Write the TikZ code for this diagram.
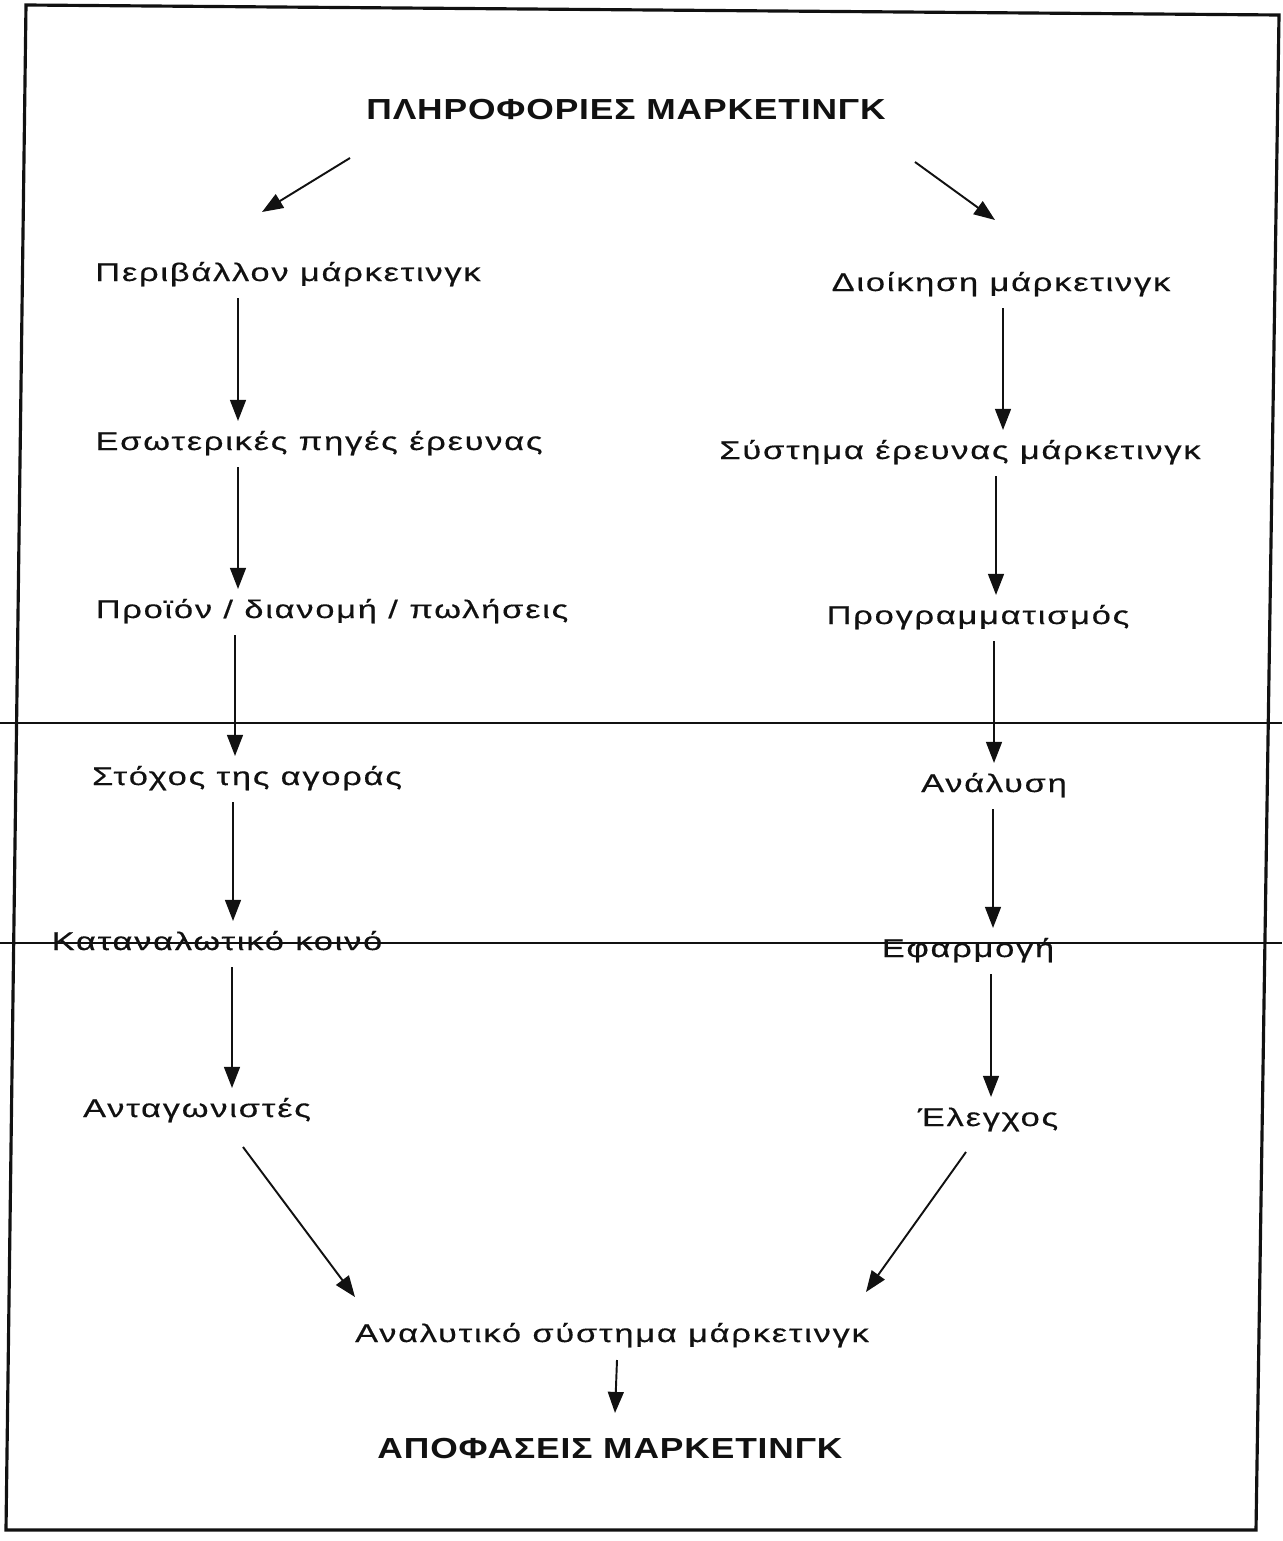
\documentclass[tikz,border=0pt]{standalone}
\usepackage{fontspec}
\usepackage{tikz}
\usetikzlibrary{arrows.meta, calc}
\setmainfont{Liberation Sans}
\newfontfamily\txtfont[FakeStretch=1.35, LetterSpace=7, FakeBold=0.4]{Liberation Sans}
\newfontfamily\hdfont[FakeStretch=1.22, LetterSpace=3]{Liberation Sans}
\definecolor{ink}{HTML}{111111}

\begin{document}
\begin{tikzpicture}[
    x=0.02cm, y=-0.02cm,
    ink,
    lbl/.style={
        font=\txtfont\fontsize{14.5}{17}\selectfont,
        anchor=base, inner sep=0pt,
    },
    hd/.style={
        font=\hdfont\bfseries\fontsize{16.5}{19}\selectfont,
        anchor=base, inner sep=0pt,
    },
    arr/.style={
        line width=1.1pt,
        -{Triangle[length=12pt, width=9pt]},
    },
]
\useasboundingbox (0,0) rectangle (1282,1541);

% =============================================
% FRAME and the two fold lines of the sheet
% =============================================
\draw[line width=1.8pt, line join=miter] (26,5) -- (1279,15) -- (1256,1530) -- (6,1530) -- cycle;
\draw[line width=0.9pt] (0,723) -- (1282,723);
\draw[line width=0.9pt] (0,943) -- (1282,943);

% =============================================
% TITLES
% =============================================
\node[hd] (head) at (626,119) {ΠΛΗΡΟΦΟΡΙΕΣ ΜΑΡΚΕΤΙΝΓΚ};
\node[hd] (apof) at (610,1458) {ΑΠΟΦΑΣΕΙΣ ΜΑΡΚΕΤΙΝΓΚ};

% =============================================
% LEFT COLUMN
% =============================================
\node[lbl] (peri)   at (288,281)  {Περιβάλλον μάρκετινγκ};
\node[lbl] (eso)    at (319,450)  {Εσωτερικές πηγές έρευνας};
\node[lbl] (proion) at (332,618)  {Προϊόν / διανομή / πωλήσεις};
\node[lbl] (stoxos) at (247,785)  {Στόχος της αγοράς};
\node[lbl] (katan)  at (217,950)  {Καταναλωτικό κοινό};
\node[lbl] (antag)  at (197,1117) {Ανταγωνιστές};

% =============================================
% RIGHT COLUMN
% =============================================
\node[lbl] (dioik)   at (1001,291) {Διοίκηση μάρκετινγκ};
\node[lbl] (systima) at (960,459)  {Σύστημα έρευνας μάρκετινγκ};
\node[lbl] (prog)    at (978,624)  {Προγραμματισμός};
\node[lbl] (analysi) at (994,792)  {Ανάλυση};
\node[lbl] (efarm)   at (968,957)  {Εφαρμογή};
\node[lbl] (elegx)   at (988,1126) {Έλεγχος};

% Bottom
\node[lbl] (analyt) at (612,1342) {Αναλυτικό σύστημα μάρκετινγκ};

% =============================================
% ARROWS
% =============================================
% split at the top
\draw[arr] ([shift={(-276,39)}]head.base) -- ([shift={(-26,-69)}]peri.base);
\draw[arr] ([shift={(289,43)}]head.base) -- ([shift={(-6,-71)}]dioik.base);

% down each column
\foreach \a/\b/\x in {peri/eso/238, eso/proion/238, proion/stoxos/235,
                      stoxos/katan/233, katan/antag/232,
                      dioik/systima/1003, systima/prog/996, prog/analysi/994,
                      analysi/efarm/993, efarm/elegx/991}
  \draw[arr] ($(\a.base -| \x,0)+(0,17)$) -- ($(\b.base -| \x,0)+(0,-29)$);

% join at the bottom
\draw[arr] ([shift={(46,30)}]antag.base) -- ([shift={(-257,-45)}]analyt.base);
\draw[arr] ([shift={(-22,26)}]elegx.base) -- ([shift={(254,-50)}]analyt.base);
\draw[arr] ([shift={(5,18)}]analyt.base) -- ([shift={(5,-45)}]apof.base);

\end{tikzpicture}
\end{document}
